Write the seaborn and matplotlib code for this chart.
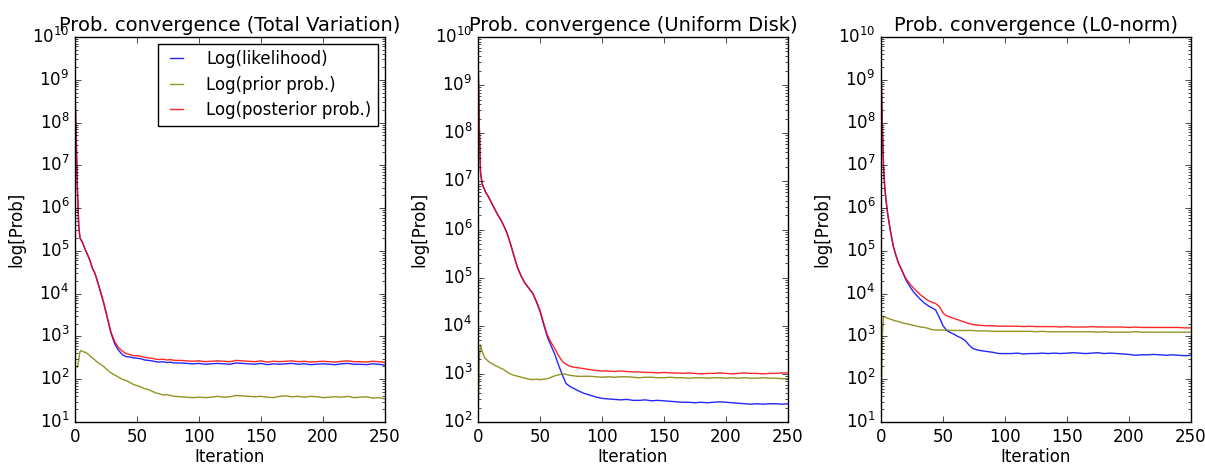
import matplotlib
matplotlib.use("Agg")
import matplotlib.pyplot as plt
import numpy as np
import seaborn as sns

plt.style.use("classic")
plt.rcParams["font.family"] = ["DejaVu Sans"]

# Iteration grid shared by all three runs
iterations = [0, 1, 2, 3, 4, 5, 6, 8, 10, 12, 14, 16, 18,
              20, 23, 26, 29, 32, 35, 38, 41, 44, 47, 50, 53, 56, 59, 62, 65, 68, 71, 74, 77, 80,
              85, 90, 95, 100, 105, 110, 115, 120, 125, 130, 135, 140, 145, 150, 155, 160,
              165, 170, 175, 180, 185, 190, 195, 200, 205, 210, 215, 220, 225, 230, 235, 240, 245, 250]

# log10 of probabilities -- Total Variation prior
tv_likelihood = [8.8, 7.6, 6.4, 5.6, 5.3, 5.25, 5.2, 5.05, 4.92, 4.78, 4.6, 4.48, 4.3,
                 4.1, 3.8, 3.44, 3.08, 2.83, 2.68, 2.58, 2.53, 2.52, 2.5, 2.49, 2.48, 2.45, 2.44, 2.43, 2.41, 2.4, 2.41, 2.39, 2.4, 2.38,
                 2.38, 2.37, 2.36, 2.37, 2.35, 2.36, 2.37, 2.36, 2.35, 2.38, 2.37, 2.36, 2.35, 2.37, 2.34, 2.36,
                 2.35, 2.36, 2.37, 2.35, 2.36, 2.34, 2.35, 2.36, 2.35, 2.34, 2.36, 2.37, 2.35, 2.35, 2.34, 2.36, 2.35, 2.33]
tv_prior = [2.3, 2.3, 2.28, 2.45, 2.65, 2.67, 2.65, 2.63, 2.6, 2.55, 2.5, 2.45, 2.4,
            2.36, 2.3, 2.22, 2.15, 2.1, 2.05, 2.0, 1.97, 1.93, 1.88, 1.85, 1.82, 1.78, 1.76, 1.72, 1.68, 1.66, 1.63, 1.64, 1.62, 1.6,
            1.59, 1.58, 1.57, 1.58, 1.57, 1.58, 1.6, 1.58, 1.59, 1.62, 1.61, 1.6, 1.59, 1.6, 1.58, 1.57,
            1.6, 1.61, 1.59, 1.6, 1.58, 1.6, 1.59, 1.57, 1.58, 1.59, 1.58, 1.6, 1.57, 1.58, 1.59, 1.56, 1.57, 1.54]
tv_posterior = [8.8, 7.6, 6.4, 5.6, 5.3, 5.25, 5.2, 5.05, 4.92, 4.78, 4.6, 4.48, 4.3,
                4.1, 3.8, 3.45, 3.1, 2.88, 2.74, 2.66, 2.6, 2.58, 2.55, 2.55, 2.54, 2.51, 2.5, 2.49, 2.47, 2.46, 2.47, 2.45, 2.46, 2.44,
                2.44, 2.43, 2.42, 2.43, 2.41, 2.42, 2.43, 2.42, 2.41, 2.44, 2.43, 2.42, 2.41, 2.43, 2.4, 2.42,
                2.41, 2.42, 2.43, 2.41, 2.42, 2.4, 2.41, 2.42, 2.41, 2.4, 2.42, 2.43, 2.41, 2.41, 2.4, 2.42, 2.41, 2.39]

# log10 of probabilities -- Uniform Disk prior
ud_likelihood = [9.7, 8.2, 7.2, 7.0, 6.9, 6.85, 6.78, 6.7, 6.6, 6.5, 6.4, 6.3, 6.22,
                 6.12, 5.95, 5.72, 5.45, 5.2, 5.02, 4.88, 4.78, 4.68, 4.5, 4.3, 4.02, 3.76, 3.58, 3.4, 3.18, 2.98, 2.8, 2.74, 2.7, 2.66,
                 2.6, 2.56, 2.52, 2.49, 2.48, 2.47, 2.46, 2.47, 2.45, 2.45, 2.46, 2.44, 2.45, 2.44,
                 2.43, 2.42, 2.41, 2.41, 2.4, 2.41, 2.4, 2.41, 2.42, 2.41, 2.4, 2.39, 2.38, 2.37, 2.38, 2.37, 2.38, 2.38, 2.37, 2.38]
ud_prior = [2.0, 3.3, 3.6, 3.5, 3.42, 3.36, 3.32, 3.27, 3.23, 3.2, 3.17, 3.15, 3.12,
            3.1, 3.05, 3.0, 2.97, 2.95, 2.93, 2.91, 2.89, 2.88, 2.89, 2.88, 2.89, 2.9, 2.93, 2.96, 2.98, 3.0, 2.99, 2.97, 2.96, 2.95,
            2.95, 2.95, 2.94, 2.93, 2.94, 2.93, 2.94, 2.94, 2.93, 2.92, 2.93, 2.93, 2.92, 2.92,
            2.93, 2.92, 2.92, 2.91, 2.92, 2.92, 2.91, 2.92, 2.92, 2.91, 2.92, 2.91, 2.92, 2.91, 2.91, 2.92, 2.91, 2.91, 2.9, 2.9]
ud_posterior = [9.7, 8.2, 7.2, 7.0, 6.9, 6.85, 6.78, 6.7, 6.6, 6.5, 6.4, 6.3, 6.22,
                6.12, 5.95, 5.72, 5.45, 5.2, 5.02, 4.88, 4.78, 4.68, 4.52, 4.32, 4.05, 3.8, 3.65, 3.52, 3.38, 3.26, 3.2, 3.16, 3.14, 3.13,
                3.11, 3.09, 3.07, 3.06, 3.06, 3.05, 3.06, 3.05, 3.04, 3.04, 3.03, 3.03, 3.02, 3.03,
                3.02, 3.02, 3.01, 3.02, 3.01, 3.0, 3.01, 3.01, 3.02, 3.01, 3.0, 3.01, 3.02, 3.01, 3.01, 3.0, 3.01, 3.01, 3.02, 3.02]

# log10 of probabilities -- L0-norm prior
l0_likelihood = [9.3, 8.0, 7.0, 6.5, 6.2, 5.95, 5.75, 5.4, 5.1, 4.9, 4.72, 4.6, 4.46,
                 4.33, 4.18, 4.05, 3.95, 3.86, 3.78, 3.72, 3.67, 3.62, 3.45, 3.25, 3.14, 3.09, 3.05, 3.0, 2.96, 2.9, 2.8, 2.72, 2.69, 2.67,
                 2.65, 2.63, 2.6, 2.6, 2.6, 2.61, 2.59, 2.6, 2.6, 2.61, 2.6, 2.61, 2.6, 2.61,
                 2.62, 2.61, 2.6, 2.61, 2.62, 2.6, 2.61, 2.6, 2.59, 2.58, 2.56, 2.57, 2.57, 2.58, 2.57, 2.56, 2.57, 2.56, 2.55, 2.56]
l0_prior = [1.0, 3.0, 3.47, 3.46, 3.44, 3.43, 3.42, 3.4, 3.38, 3.36, 3.35, 3.33, 3.31,
            3.3, 3.28, 3.26, 3.24, 3.22, 3.21, 3.19, 3.16, 3.15, 3.15, 3.15, 3.15, 3.14, 3.14, 3.14, 3.14, 3.14, 3.14, 3.14, 3.13, 3.13,
            3.13, 3.12, 3.12, 3.12, 3.12, 3.12, 3.12, 3.12, 3.11, 3.12, 3.11, 3.11, 3.11, 3.11,
            3.11, 3.11, 3.11, 3.11, 3.1, 3.11, 3.1, 3.1, 3.1, 3.1, 3.11, 3.1, 3.1, 3.1, 3.1, 3.1, 3.1, 3.1, 3.1, 3.1]
l0_posterior = [9.3, 8.0, 7.0, 6.5, 6.2, 5.95, 5.75, 5.4, 5.1, 4.9, 4.72, 4.6, 4.48,
                4.36, 4.24, 4.14, 4.05, 3.97, 3.9, 3.84, 3.8, 3.77, 3.7, 3.55, 3.48, 3.45, 3.42, 3.39, 3.36, 3.33, 3.3, 3.28, 3.27, 3.26,
                3.25, 3.25, 3.24, 3.24, 3.24, 3.24, 3.23, 3.24, 3.23, 3.23, 3.23, 3.23, 3.22, 3.23,
                3.22, 3.22, 3.22, 3.23, 3.22, 3.22, 3.22, 3.22, 3.22, 3.21, 3.22, 3.21, 3.21, 3.21, 3.21, 3.21, 3.21, 3.21, 3.2, 3.2]

titles = ["Prob. convergence (Total Variation)",
          "Prob. convergence (Uniform Disk)",
          "Prob. convergence (L0-norm)"]
series_labels = ["Log(likelihood)", "Log(prior prob.)", "Log(posterior prob.)"]
series_colors = ["#0000ff", "#808000", "#ff0000"]
panels = [
    (tv_likelihood, tv_prior, tv_posterior, (1e1, 1e10)),
    (ud_likelihood, ud_prior, ud_posterior, (1e2, 1e10)),
    (l0_likelihood, l0_prior, l0_posterior, (1e1, 1e10)),
]

fig = plt.figure(figsize=(12.05, 4.67), dpi=100, facecolor="white")
lefts = [75, 478, 881]
W, H = 1205.0, 467.0
x_iter = np.array(iterations)

for i, (left, (lik, pri, post, ylim)) in enumerate(zip(lefts, panels)):
    ax = fig.add_axes([left / W, 1 - 422 / H, 310 / W, 385 / H])
    ax.set_facecolor("white")
    for vals, lab, col in zip((lik, pri, post), series_labels, series_colors):
        sns.lineplot(x=x_iter, y=10 ** np.array(vals), ax=ax, color=col,
                     linewidth=1.0, alpha=0.85,
                     label=lab if i == 0 else None, legend=(i == 0))
    ax.set_yscale("log")
    ax.set_xlim(0, 250)
    ax.set_ylim(*ylim)
    ax.set_xticks([0, 50, 100, 150, 200, 250])
    ax.set_title(titles[i], fontsize=14, pad=4)
    ax.set_xlabel("Iteration", fontsize=12, labelpad=2)
    ax.set_ylabel("log[Prob]", fontsize=12)
    ax.tick_params(labelsize=12)
    if i == 0:
        leg = ax.legend(loc="upper right", fontsize=12, frameon=True, fancybox=False,
                        handlelength=1.4, handletextpad=1.1, labelspacing=0.45,
                        borderaxespad=0.4)
        leg.get_frame().set_edgecolor("black")

fig.savefig("out.png", dpi=100, facecolor="white")
